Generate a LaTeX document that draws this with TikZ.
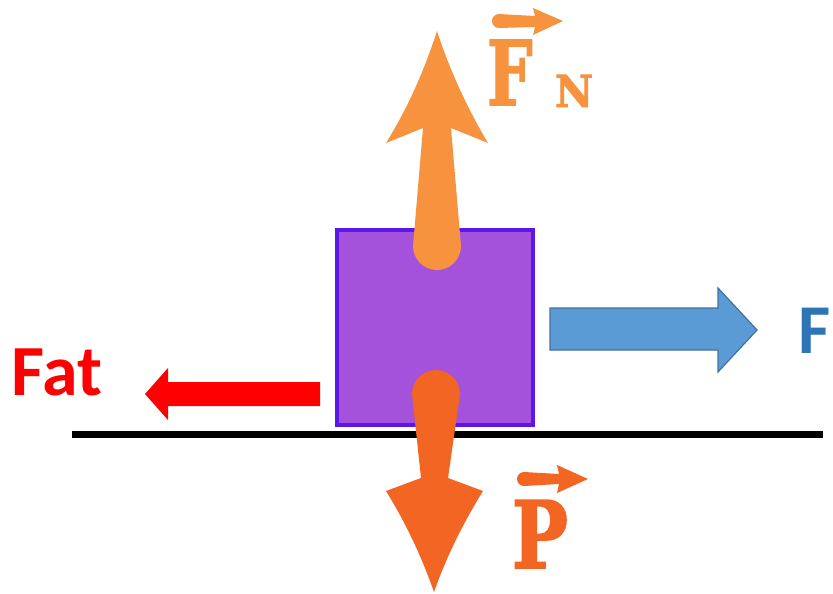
\documentclass[tikz,border=0pt]{standalone}
\usepackage{fontspec}
\newfontfamily\calib{Carlito}
\newfontfamily\slab{DejaVu Serif Bold}[FakeBold=2]
\definecolor{fncol}{HTML}{F7923F}
\definecolor{pcol}{HTML}{F26522}
\definecolor{boxfill}{HTML}{A452DB}
\definecolor{boxedge}{HTML}{5B16E8}
\definecolor{bluefill}{HTML}{5B9BD5}
\definecolor{blueedge}{HTML}{41719C}
\definecolor{bluetext}{HTML}{2E75B6}
\definecolor{redc}{HTML}{FF0000}
\begin{document}
\begin{tikzpicture}[x=1pt,y=-1pt,
  lbl/.style={anchor=base west, inner sep=0pt, outer sep=0pt},
  sanslbl/.style={lbl, font=\calib\bfseries\fontsize{72}{72}\selectfont}]
\useasboundingbox (0,0) rectangle (833,594);
% ground
\draw[line width=7pt] (72,434) -- (823,434);
% box
\node[draw=boxedge, fill=boxfill, line width=4pt, minimum width=196pt, minimum height=195pt, inner sep=0pt] (box) at (435,327.5) {};
% normal force arrow (up)
\fill[fncol] (413,246) -- (423,128) -- (386,143)
  .. controls (409,106) and (425,68) .. (437,31)
  .. controls (449,68) and (466,106) .. (488,143)
  -- (451,128) -- (461,246) arc[start angle=0,end angle=180,radius=24] -- cycle;
% weight arrow (down)
\fill[pcol] (412,394) -- (421,478) -- (386,491)
  .. controls (407,525) and (422,558) .. (434,592)
  .. controls (446,558) and (462,525) .. (483,491)
  -- (448,478) -- (460,394) arc[start angle=0,end angle=-180,radius=24] -- cycle;
% applied force (blue block arrow)
\draw[fill=bluefill, draw=blueedge, line width=1.2pt, line join=miter]
  (550,308) -- (718,308) -- (718,288) -- (757,330) -- (718,372) -- (718,350) -- (550,350) -- cycle;
% friction (red)
\fill[redc] (320,382) -- (168,382) -- (168,368) -- (145,394) -- (168,420) -- (168,406) -- (320,406) -- cycle;
% labels
\node[sanslbl, text=redc] (fat) at (11,395) {Fat};
\node[lbl, text=bluetext, font=\calib\bfseries\fontsize{70}{70}\selectfont] (f) at (798,353) {F};
\node[lbl, text=fncol, font=\slab\fontsize{89}{89}\selectfont] (fnF) at (487,105) {\scalebox{0.72}[1]{F}};
\node[lbl, text=fncol, font=\slab\fontsize{44}{44}\selectfont] (fnN) at (555,107) {\scalebox{0.95}[1]{N}};
\node[lbl, text=pcol, font=\slab\fontsize{93}{93}\selectfont] (p) at (512,568) {\scalebox{0.8}[1]{P}};
% vector arrows over labels
\fill[fncol] (499,14) -- (535,16) -- (533,8) -- (563,21) -- (533,35) -- (535,27) -- (499,28) arc[start angle=90,end angle=270,radius=7] -- cycle;
\fill[pcol] (524,472) -- (559,474) -- (557,465) -- (588,479) -- (557,493) -- (559,484) -- (524,486) arc[start angle=90,end angle=270,radius=7] -- cycle;
\end{tikzpicture}
\end{document}
